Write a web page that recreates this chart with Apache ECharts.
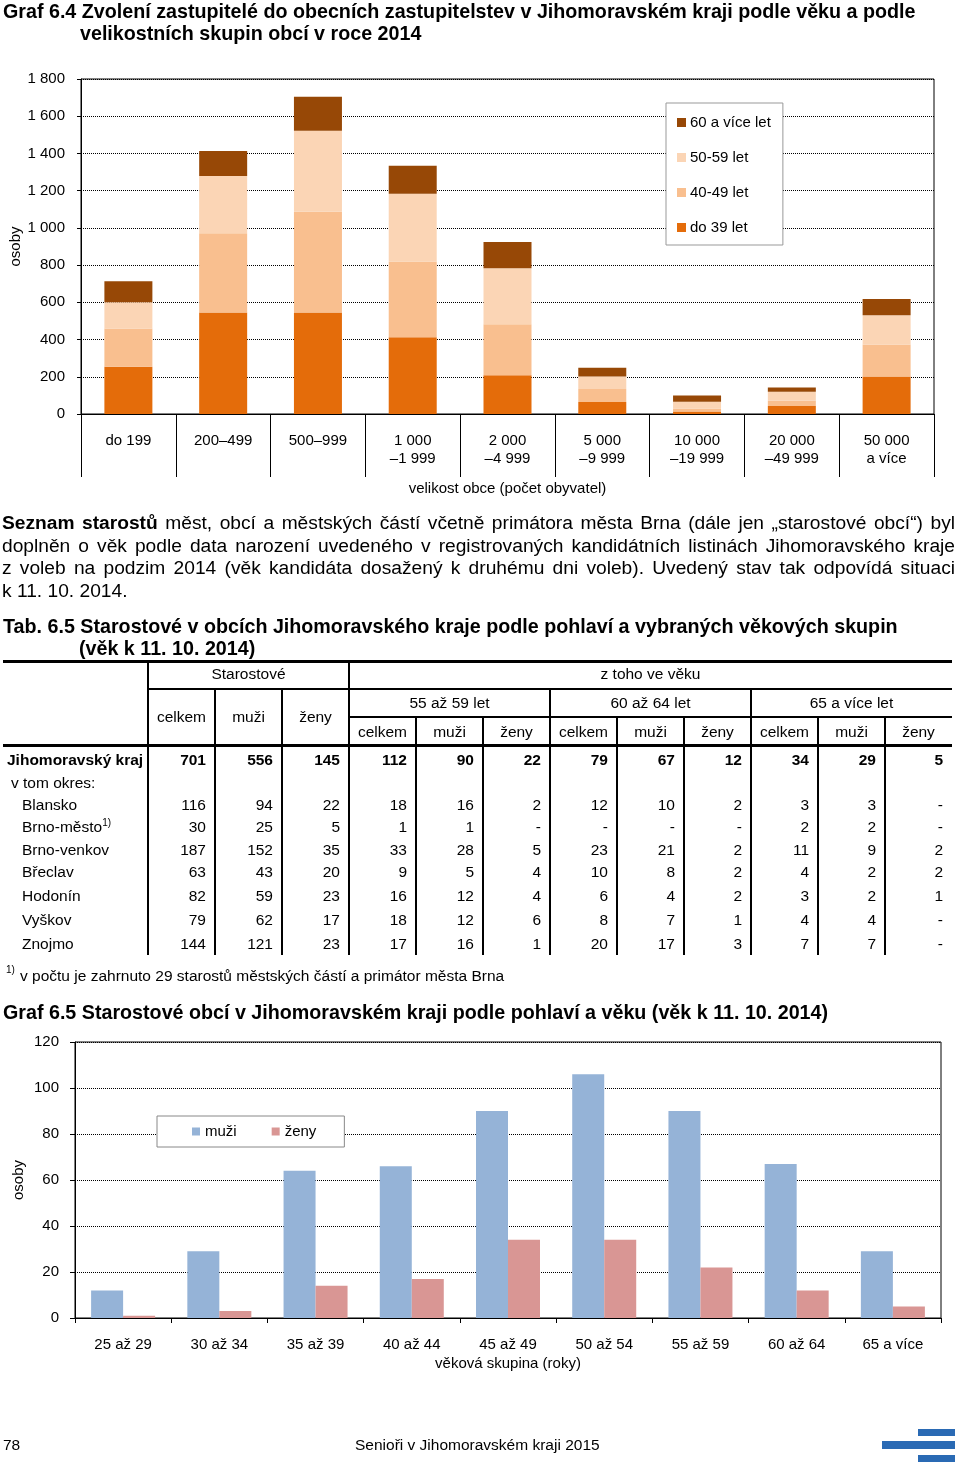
<!DOCTYPE html>
<html><head><meta charset="utf-8">
<script src="https://cdn.jsdelivr.net/npm/echarts@6.0.0/dist/echarts.min.js"></script>
<style>
html,body{margin:0;padding:0}
body{width:960px;height:1468px;position:relative;font-family:"Liberation Sans",Arial,sans-serif;color:#000;background:#fff;overflow:hidden}
.t{position:absolute;white-space:nowrap}
.h{font-weight:bold;font-size:19.7px;line-height:22px}
.p{position:absolute;left:2px;width:953px;font-size:19.2px;line-height:22px;text-align:justify;text-align-last:justify;white-space:nowrap}
.ln{position:absolute;background:#000}
.c{position:absolute;font-size:15.5px;line-height:18px;white-space:nowrap}
</style></head><body>
<div id="chart" style="position:absolute;left:0;top:0;width:960px;height:1468px"></div>

<div class="t h" style="left:3px;top:0px">Graf 6.4 Zvolení zastupitelé do obecních zastupitelstev v Jihomoravském kraji podle věku a podle</div>
<div class="t h" style="left:80px;top:22px">velikostních skupin obcí v roce 2014</div>

<div class="p" style="top:512px"><b>Seznam starostů</b> měst, obcí a městských částí včetně primátora města Brna (dále jen „starostové obcí“) byl</div>
<div class="p" style="top:535px">doplněn o věk podle data narození uvedeného v registrovaných kandidátních listinách Jihomoravského kraje</div>
<div class="p" style="top:557px">z voleb na podzim 2014 (věk kandidáta dosažený k druhému dni voleb). Uvedený stav tak odpovídá situaci</div>
<div class="p" style="top:580px;text-align-last:left">k 11. 10. 2014.</div>

<div class="t h" style="left:3px;top:615px">Tab. 6.5 Starostové v obcích Jihomoravského kraje podle pohlaví a vybraných věkových skupin</div>
<div class="t h" style="left:79px;top:637px">(věk k 11. 10. 2014)</div>

<div id="tbl"></div>

<div class="t" style="left:6px;top:964px;font-size:10px">1)</div>
<div class="t" style="left:20px;top:967px;font-size:15.5px">v počtu je zahrnuto 29 starostů městských částí a primátor města Brna</div>

<div class="t h" style="left:3px;top:1001px">Graf 6.5 Starostové obcí v Jihomoravském kraji podle pohlaví a věku (věk k 11. 10. 2014)</div>

<div class="t" style="left:3px;top:1436px;font-size:15.5px">78</div>
<div class="t" style="left:355px;top:1436px;font-size:15.5px">Senioři v Jihomoravském kraji 2015</div>
<div class="ln" style="left:918px;top:1429px;width:37px;height:7px;background:#2a6ab4"></div>
<div class="ln" style="left:882px;top:1441px;width:73px;height:8px;background:#2a6ab4"></div>
<div class="ln" style="left:918px;top:1455px;width:37px;height:7px;background:#2a6ab4"></div>

<script>
// ---------- Graf 6.4 data ----------
const sizeGroups = ["do 199", "200–499", "500–999", "1 000\n–1 999", "2 000\n–4 999", "5 000\n–9 999", "10 000\n–19 999", "20 000\n–49 999", "50 000\na více"];
const ageUpTo39 = [254, 546, 546, 412, 208, 64, 13, 43, 201];
const age40to49 = [206, 425, 541, 408, 274, 70, 17, 29, 173];
const age50to59 = [140, 308, 435, 364, 301, 67, 36, 48, 156];
const age60plus = [113, 134, 183, 150, 141, 48, 33, 23, 88];
const seriesNames1 = ["do 39 let", "40-49 let", "50-59 let", "60 a více let"];

// ---------- Graf 6.5 data ----------
const mayorAgeGroups = ["25 až 29", "30 až 34", "35 až 39", "40 až 44", "45 až 49", "50 až 54", "55 až 59", "60 až 64", "65 a více"];
const mayorsMen = [12, 29, 64, 66, 90, 106, 90, 67, 29];
const mayorsWomen = [1, 3, 14, 17, 34, 34, 22, 12, 5];

// ---------- Tab. 6.5 data ----------
const tableRows = ["Jihomoravský kraj", "v tom okres:", "Blansko", "Brno-město", "Brno-venkov", "Břeclav", "Hodonín", "Vyškov", "Znojmo"];
const mayorsTotal = [701, null, 116, 30, 187, 63, 82, 79, 144];
const mayorsTotalMen = [556, null, 94, 25, 152, 43, 59, 62, 121];
const mayorsTotalWomen = [145, null, 22, 5, 35, 20, 23, 17, 23];
const age55Total = [112, null, 18, 1, 33, 9, 16, 18, 17];
const age55Men = [90, null, 16, 1, 28, 5, 12, 12, 16];
const age55Women = [22, null, 2, 0, 5, 4, 4, 6, 1];
const age60Total = [79, null, 12, 0, 23, 10, 6, 8, 20];
const age60Men = [67, null, 10, 0, 21, 8, 4, 7, 17];
const age60Women = [12, null, 2, 0, 2, 2, 2, 1, 3];
const age65Total = [34, null, 3, 2, 11, 4, 3, 4, 7];
const age65Men = [29, null, 3, 2, 9, 2, 2, 4, 7];
const age65Women = [5, null, 0, 0, 2, 2, 1, 0, 0];
const ageBands = ["55 až 59 let", "60 až 64 let", "65 a více let"];
const subHeads = ["celkem", "muži", "ženy"];

// ---------- build table ----------
(function(){
  const tbl = document.getElementById('tbl');
  const add = (html) => tbl.insertAdjacentHTML('beforeend', html);
  const colX = [148,215,282,349,416,483,550,617,684,751,818,885,952];
  const line = (x,y,w,h) => add(`<div class="ln" style="left:${x}px;top:${y}px;width:${w}px;height:${h}px"></div>`);
  line(3,660,949,3);
  line(148,688,804,2);
  line(349,716,603,2);
  line(3,744,949,3);
  line(147,661,2,294); line(348,661,2,294);
  [215,282,550,751].forEach(x=>line(x-1,689,2,266));
  [416,483,617,684,818,885].forEach(x=>line(x-1,717,2,238));
  const ctext = (x1,x2,yc,txt,extra='') => add(`<div class="c" style="left:${x1}px;width:${x2-x1}px;top:${yc-9}px;text-align:center;${extra}">${txt}</div>`);
  ctext(148,349,674,"Starostové");
  ctext(349,952,674,"z toho ve věku");
  subHeads.forEach((s,i)=>ctext(colX[i],colX[i+1],717,s));
  ageBands.forEach((s,i)=>ctext(colX[3+3*i],colX[6+3*i],703,s));
  for(let g=0; g<3; g++) subHeads.forEach((s,i)=>ctext(colX[3+3*g+i],colX[4+3*g+i],732,s));
  const cols = [mayorsTotal, mayorsTotalMen, mayorsTotalWomen, age55Total, age55Men, age55Women, age60Total, age60Men, age60Women, age65Total, age65Men, age65Women];
  const rowY = [760, 783, 805, 827, 850, 872, 896, 920, 944];
  const indent = [7, 11, 22, 22, 22, 22, 22, 22, 22];
  tableRows.forEach((name,r)=>{
    const bold = r===0 ? 'font-weight:bold;' : '';
    let label = name;
    if (name === "Brno-město") label = name + '<sup style="font-size:10px;line-height:0">1)</sup>';
    add(`<div class="c" style="left:${indent[r]}px;top:${rowY[r]-9}px;${bold}">${label}</div>`);
    cols.forEach((col,ci)=>{
      const v = col[r];
      if (v === null) return;
      const txt = v === 0 ? '-' : String(v);
      add(`<div class="c" style="left:${colX[ci]}px;width:${colX[ci+1]-colX[ci]-9}px;top:${rowY[r]-9}px;text-align:right;${bold}">${txt}</div>`);
    });
  });
})();

// ---------- charts ----------
const chart = echarts.init(document.getElementById('chart'), null, {renderer:'canvas'});
const txt = {color:'#000', fontFamily:'Liberation Sans', fontSize:15};
const fmtThousands = v => v >= 1000 ? Math.floor(v/1000) + ' ' + String(v%1000).padStart(3,'0') : String(v);
const colors1 = ['#E46C0A', '#F9BF8F', '#FBD5B5', '#974806'];
const stacks = [ageUpTo39, age40to49, age50to59, age60plus];

chart.setOption({
  animation: false,
  textStyle: {fontFamily:'Liberation Sans'},
  grid: [
    {left:81, top:79, width:853, height:335, show:true, borderColor:'#000', borderWidth:1, containLabel:false, outerBoundsMode:'none'},
    {left:75, top:1042, width:866, height:276, show:true, borderColor:'#000', borderWidth:1, containLabel:false, outerBoundsMode:'none'}
  ],
  legend: [
    {data:['60 a více let','50-59 let','40-49 let','do 39 let'], orient:'vertical', left:666, top:103,
     icon:'rect', itemWidth:9, itemHeight:9, itemGap:20, textStyle:Object.assign({}, txt, {padding:[0,0,0,-1]}),
     backgroundColor:'#fff', borderColor:'#999', borderWidth:1, padding:[12,12,10,11]},
    {data:['muži','ženy'], orient:'horizontal', left:157, top:1116,
     icon:'rect', itemWidth:8, itemHeight:8, itemGap:35, textStyle:txt,
     backgroundColor:'#fff', borderColor:'#888', borderWidth:1, padding:[8,28,8,35]}
  ],
  xAxis: [
    {type:'category', gridIndex:0, data:sizeGroups, boundaryGap:true,
     axisLine:{lineStyle:{color:'#000', width:1}},
     axisTick:{show:true, interval:0, length:63, lineStyle:{color:'#000'}},
     axisLabel:Object.assign({}, txt, {interval:0, margin:18, lineHeight:18}),
     name:'velikost obce (počet obyvatel)', nameLocation:'middle', nameGap:67, nameTextStyle:txt},
    {type:'category', gridIndex:1, data:mayorAgeGroups, boundaryGap:true,
     axisLine:{lineStyle:{color:'#000', width:1}},
     axisTick:{show:true, interval:0, length:5, lineStyle:{color:'#000'}},
     axisLabel:Object.assign({}, txt, {interval:0, margin:19}),
     name:'věková skupina (roky)', nameLocation:'middle', nameGap:38, nameTextStyle:txt}
  ],
  yAxis: [
    {type:'value', gridIndex:0, min:0, max:1800, interval:200,
     axisLine:{show:true, lineStyle:{color:'#000'}},
     axisTick:{show:true, length:4, lineStyle:{color:'#000'}},
     axisLabel:Object.assign({}, txt, {margin:16, formatter:fmtThousands}),
     splitLine:{show:true, lineStyle:{color:'#000', type:'dotted', width:1}},
     name:'osoby', nameLocation:'middle', nameGap:58, nameRotate:90, nameTextStyle:Object.assign({}, txt, {padding:[0,0,0,0]}),
     nameMoveOverlap:false},
    {type:'value', gridIndex:1, min:0, max:120, interval:20,
     axisLine:{show:true, lineStyle:{color:'#000'}},
     axisTick:{show:true, length:5, lineStyle:{color:'#000'}},
     axisLabel:Object.assign({}, txt, {margin:16}),
     splitLine:{show:true, lineStyle:{color:'#000', type:'dotted', width:1}},
     name:'osoby', nameLocation:'middle', nameGap:49, nameRotate:90, nameTextStyle:txt,
     nameMoveOverlap:false}
  ],
  series: stacks.map((d,i)=>({
    name:seriesNames1[i], type:'bar', stack:'age', xAxisIndex:0, yAxisIndex:0,
    barWidth:48, data:d, itemStyle:{color:colors1[i]}
  })).concat([
    {name:'muži', type:'bar', xAxisIndex:1, yAxisIndex:1, barWidth:32, barGap:'0%', data:mayorsMen, itemStyle:{color:'#95B3D7'}},
    {name:'ženy', type:'bar', xAxisIndex:1, yAxisIndex:1, barWidth:32, barGap:'0%', data:mayorsWomen, itemStyle:{color:'#D99694'}}
  ])
});
</script>
</body></html>
